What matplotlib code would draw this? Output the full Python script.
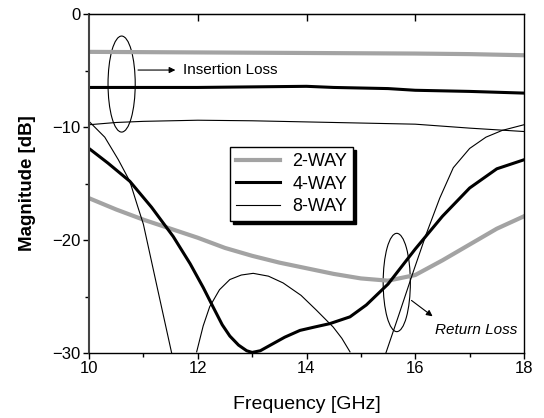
import numpy as np
import matplotlib
matplotlib.use("Agg")
import matplotlib.pyplot as plt
from matplotlib.patches import Ellipse

plt.rcParams['font.family'] = ['Liberation Sans', 'DejaVu Sans']

# insertion loss (S21)
il_2way_f = [10, 12, 14, 16, 17, 18]
il_2way_db = [-3.35, -3.4, -3.45, -3.5, -3.55, -3.65]
il_4way_f = [10, 12, 13, 14, 14.5, 15.5, 16, 17, 18]
il_4way_db = [-6.5, -6.5, -6.45, -6.4, -6.5, -6.6, -6.75, -6.85, -7.0]
il_8way_f = [10, 10.5, 11, 12, 13, 14, 15, 16, 17, 18]
il_8way_db = [-9.8, -9.6, -9.5, -9.4, -9.45, -9.55, -9.65, -9.75, -10.1, -10.4]

# return loss (S11)
rl_2way_f = [10, 10.5, 11, 11.5, 12, 12.5, 13, 13.5, 14, 14.5, 15, 15.5, 16, 16.5, 17, 17.5, 18]
rl_2way_db = [-16.3, -17.3, -18.2, -19.0, -19.8, -20.7, -21.4, -22.0, -22.5, -23.0, -23.4, -23.6,
              -23.1, -21.8, -20.4, -19.0, -17.9]
rl_4way_f = [10, 10.35, 10.75, 11.15, 11.55, 11.86, 12.1, 12.29, 12.45, 12.59, 12.75, 12.9, 13.0,
             13.15, 13.3, 13.6, 13.88, 14.15, 14.43, 14.8, 15.1, 15.5, 16, 16.5, 17, 17.5, 18]
rl_4way_db = [-11.9, -13.2, -14.8, -17.1, -19.7, -22.1, -24.2, -26.0, -27.5, -28.5, -29.3, -29.8, -29.95,
              -29.8, -29.4, -28.6, -28.0, -27.7, -27.4, -26.8, -25.75, -23.9, -20.8, -17.9, -15.4, -13.7, -12.9]
# 8-way dips below the -30 dB floor twice (nan = gap)
rl_8way_f = [10, 10.29, 10.54, 10.75, 10.9, 11.0, 11.25, 11.52, np.nan,
             11.98, 12.1, 12.22, 12.4, 12.59, 12.8, 13.02, 13.3, 13.57, 13.9, 14.18, 14.49, 14.65, 14.8, np.nan,
             15.46, 15.7, 15.95, 16.2, 16.45, 16.7, 17.0, 17.3, 17.6, 18.0]
rl_8way_db = [-9.5, -10.9, -12.9, -14.8, -17.1, -18.6, -24.1, -30.0, np.nan,
              -29.9, -27.6, -25.9, -24.4, -23.5, -23.1, -22.95, -23.2, -23.8, -24.9, -26.2, -27.7, -28.7, -29.9, np.nan,
              -30.0, -26.6, -23.0, -19.5, -16.3, -13.6, -11.9, -10.9, -10.3, -9.8]

fig = plt.figure(figsize=(5.44, 4.18), dpi=100)
ax = fig.add_axes([89/544, 65/418, 435/544, 339/418])

gray = '#a3a3a3'
ax.plot(il_2way_f, il_2way_db, color=gray, lw=3, label='2-WAY')
ax.plot(il_4way_f, il_4way_db, color='k', lw=2.2, label='4-WAY')
ax.plot(il_8way_f, il_8way_db, color='k', lw=0.8, label='8-WAY')
ax.plot(rl_2way_f, rl_2way_db, color=gray, lw=3)
ax.plot(rl_4way_f, rl_4way_db, color='k', lw=2.2)
ax.plot(rl_8way_f, rl_8way_db, color='k', lw=0.8)

ax.set_xlim(10, 18)
ax.set_ylim(-30, 0)
ax.set_xticks([10, 12, 14, 16, 18])
ax.set_xticks([11, 13, 15, 17], minor=True)
ax.set_yticks([0, -10, -20, -30])
ax.set_yticks([-5, -15, -25], minor=True)
ax.tick_params(which='major', direction='out', length=4, width=1, labelsize=12, pad=2)
ax.tick_params(which='minor', direction='out', length=3, width=1)
for s in ['top', 'right', 'bottom', 'left']:
    ax.spines[s].set_linewidth(1.0)
ax.spines['left'].set_color('#444444')
ax.spines['left'].set_linewidth(1.5)

top = ax.secondary_xaxis('top')
top.set_xticks([12, 14, 16])
top.tick_params(direction='in', length=5, width=1, labeltop=False)

ax.set_xlabel('Frequency [GHz]', fontsize=14, labelpad=14)
ax.set_ylabel('Magnitude [dB]', fontsize=13.5, fontweight='bold', labelpad=12)

leg = ax.legend(loc='upper left', bbox_to_anchor=(0.324, 0.608), fontsize=13,
                frameon=True, fancybox=False, edgecolor='k', framealpha=1,
                shadow={'color': 'k', 'alpha': 1}, borderaxespad=0, borderpad=0.35,
                labelspacing=0.3, handlelength=2.4, handletextpad=0.7)
leg.get_frame().set_linewidth(1.0)

# annotations
ax.add_patch(Ellipse((10.6, -6.2), 0.5, 8.5, fill=False, lw=0.8, color='k'))
ax.annotate('', xy=(11.64, -4.96), xytext=(10.85, -4.96),
            arrowprops=dict(arrowstyle='-|>', lw=0.8, color='k', mutation_scale=9))
ax.text(11.73, -5.0, 'Insertion Loss', fontsize=11, va='center', ha='left')

ax.add_patch(Ellipse((15.66, -23.76), 0.5, 8.7, fill=False, lw=0.8, color='k'))
ax.annotate('', xy=(16.36, -26.9), xytext=(15.89, -25.2),
            arrowprops=dict(arrowstyle='-|>', lw=0.8, color='k', mutation_scale=9))
ax.text(16.36, -28.0, 'Return Loss', fontsize=11, style='italic', va='center', ha='left')

fig.savefig('out.png', dpi=100)
